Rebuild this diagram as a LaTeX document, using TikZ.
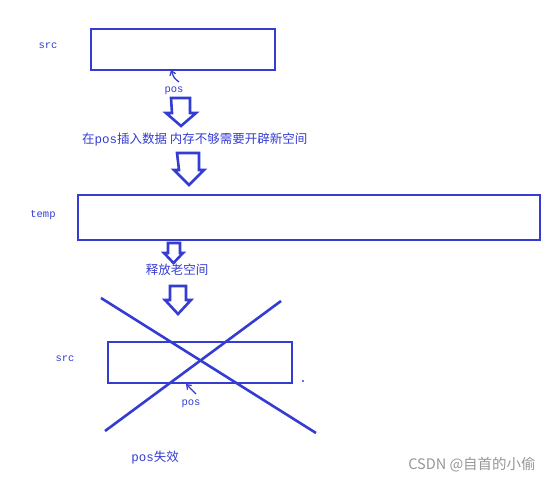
\documentclass[tikz,border=0pt]{standalone}
\usepackage{fontspec}
\setmainfont{Liberation Mono}
\newfontfamily\cjk{Noto Sans CJK SC}
\newfontfamily\latmono{Liberation Mono}
\usetikzlibrary{arrows.meta}
\definecolor{ink}{RGB}{52,60,210}
\definecolor{wm}{RGB}{150,150,150}
\begin{document}
\begin{tikzpicture}[x=1pt,y=-1pt,
  box/.style={draw=ink,line width=2.8pt},
  lbl/.style={text=ink,font=\fontsize{10.5}{12}\selectfont,inner sep=0pt},
  cn/.style={text=ink,font=\cjk\fontsize{12.5}{14}\selectfont,inner sep=0pt},
  hollow/.style={draw=ink,line width=2.6pt,line join=miter,fill=white},
  ptr/.style={draw=ink,line width=1.3pt,-{Straight Barb[length=4pt,width=6pt]}},
  cross/.style={draw=ink,line width=2.6pt}]
\useasboundingbox (0,0) rectangle (556,482);
% top src
\node[lbl] (srcA) at (48,46) {src};
\node[box,minimum width=184pt,minimum height=41pt,inner sep=0pt] (boxA) at (183,49.5) {};
\coordinate (pA) at (171,70);
\node[lbl] (posA) at (174,91) {pos};
\draw[ptr] (179,82) .. controls (174,78) .. (pA);
% arrow 1
\draw[hollow] (171,98) -- (190,98) -- (190,113) -- (196,113) -- (181,126) -- (166,113) -- (172,113) -- cycle;
\node[cn,anchor=west] (t1) at (82,140) {在{\latmono pos}插入数据 内存不够需要开辟新空间};
% arrow 2
\draw[hollow] (177,153) -- (199,153) -- (199,170) -- (204,170) -- (189,185) -- (174,170) -- (179,170) -- cycle;
% temp
\node[lbl] (temp) at (43,215) {temp};
\node[box,minimum width=462pt,minimum height=45pt,inner sep=0pt] (boxB) at (309,217.5) {};
% arrow 3
\draw[hollow] (168,243) -- (180,243) -- (180,253) -- (183,253) -- (173.5,263) -- (164,253) -- (168,253) -- cycle;
\node[cn] (t2) at (177,270) {释放老空间};
% arrow 4
\draw[hollow] (170,286) -- (186,286) -- (186,300) -- (191,300) -- (178,314) -- (165,300) -- (170,300) -- cycle;
% bottom src
\node[lbl] (srcB) at (65,359) {src};
\node[box,minimum width=184pt,minimum height=41pt,inner sep=0pt] (boxC) at (200,362.5) {};
\fill[ink] (303,381) circle (1.2pt);
\coordinate (pC) at (186,384);
\draw[ptr] (196,394) .. controls (190,388) .. (pC);
\node[lbl] (posC) at (191,404) {pos};
% cross
\coordinate (c1) at (101,298);
\coordinate (c2) at (316,433);
\coordinate (c3) at (281,301);
\coordinate (c4) at (105,431);
\draw[cross] (c1) -- (c2);
\draw[cross] (c3) -- (c4);
\node[cn] (t3) at (155,458) {{\latmono pos}失效};
% watermark
\node[text=wm,font=\cjk\fontsize{14.5}{16}\selectfont,inner sep=0pt] (wmk) at (472,465) {CSDN @自首的小偷};
\end{tikzpicture}
\end{document}
